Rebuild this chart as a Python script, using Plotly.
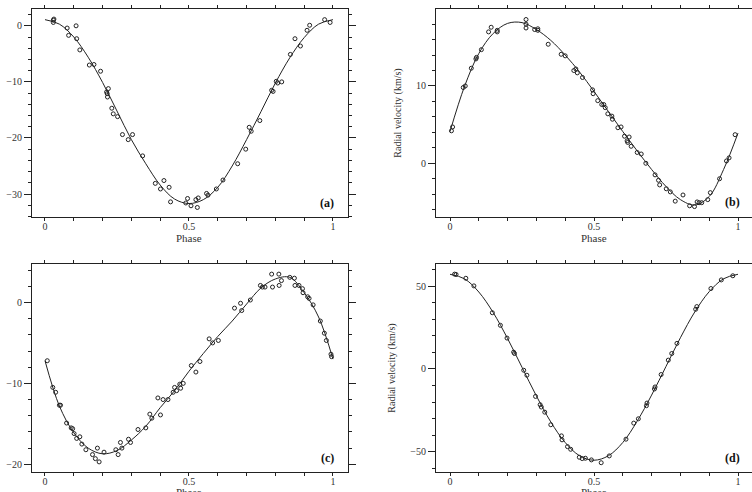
import plotly.graph_objects as go

# ---------------- data ----------------
# Panel (a)
a_phase = [0.029, 0.029, 0.031, 0.077, 0.082, 0.108, 0.110, 0.121, 0.154, 0.170,
           0.193, 0.214, 0.216, 0.220, 0.217, 0.232, 0.237, 0.252, 0.269, 0.289,
           0.304, 0.339, 0.383, 0.401, 0.413, 0.431, 0.436, 0.489, 0.495, 0.507,
           0.524, 0.532, 0.529, 0.561, 0.566, 0.595, 0.618, 0.669, 0.697, 0.709,
           0.716, 0.746, 0.787, 0.792, 0.803, 0.808, 0.822, 0.852, 0.868, 0.887,
           0.910, 0.919, 0.971, 0.990]
a_rv = [1.0, 0.6, 1.2, -0.4, -1.7, 0.0, -2.3, -4.3, -7.0, -6.9,
        -8.1, -11.8, -12.1, -11.2, -12.7, -14.7, -15.7, -16.2, -19.4, -20.3,
        -19.4, -23.2, -28.1, -29.1, -27.6, -28.8, -31.4, -31.6, -30.8, -32.1,
        -31.0, -30.7, -32.4, -29.9, -30.2, -29.1, -27.5, -24.6, -22.0, -18.1,
        -18.8, -16.9, -11.5, -11.7, -9.9, -10.2, -10.0, -5.1, -2.3, -3.6,
        -0.8, 0.1, 1.1, 0.6]

# Panel (b)
b_phase = [0.005, 0.009, 0.046, 0.053, 0.074, 0.090, 0.092, 0.109, 0.134, 0.143,
           0.164, 0.164, 0.264, 0.264, 0.264, 0.294, 0.305, 0.305, 0.341, 0.386,
           0.400, 0.430, 0.437, 0.442, 0.460, 0.495, 0.497, 0.513, 0.527, 0.534,
           0.539, 0.548, 0.562, 0.564, 0.583, 0.594, 0.606, 0.615, 0.617, 0.622,
           0.629, 0.650, 0.664, 0.680, 0.712, 0.724, 0.728, 0.751, 0.765, 0.782,
           0.809, 0.832, 0.849, 0.858, 0.865, 0.874, 0.895, 0.904, 0.936, 0.960,
           0.969, 0.990]
b_rv = [4.2, 4.7, 9.8, 10.0, 12.3, 13.5, 13.7, 14.7, 17.0, 17.6,
        17.2, 17.0, 18.6, 18.0, 17.5, 17.3, 17.4, 17.2, 15.4, 14.1,
        13.9, 12.0, 12.2, 11.7, 11.1, 9.5, 9.0, 8.1, 7.6, 7.6,
        7.2, 6.4, 6.1, 5.7, 4.6, 4.7, 3.5, 2.9, 2.7, 3.4,
        2.2, 1.4, 1.2, 0.0, -1.5, -2.2, -2.8, -3.3, -3.7, -4.9,
        -4.1, -5.5, -5.6, -5.0, -5.1, -5.1, -4.7, -3.8, -2.0, 0.3,
        0.7, 3.7]

# Panel (c)
c_phase = [0.008, 0.027, 0.037, 0.050, 0.054, 0.075, 0.091, 0.096, 0.101, 0.110,
           0.121, 0.128, 0.142, 0.165, 0.175, 0.182, 0.188, 0.205, 0.246, 0.254,
           0.262, 0.267, 0.290, 0.297, 0.323, 0.350, 0.364, 0.371, 0.392, 0.401,
           0.410, 0.427, 0.445, 0.450, 0.457, 0.468, 0.471, 0.480, 0.508, 0.524,
           0.538, 0.570, 0.582, 0.602, 0.658, 0.679, 0.683, 0.713, 0.748, 0.755,
           0.764, 0.787, 0.790, 0.812, 0.813, 0.821, 0.850, 0.866, 0.868, 0.882,
           0.894, 0.896, 0.912, 0.917, 0.931, 0.956, 0.970, 0.977, 0.993, 0.995]
c_rv = [-7.2, -10.5, -11.1, -12.7, -12.7, -14.9, -15.5, -15.6, -16.2, -16.8,
        -16.6, -17.5, -18.2, -18.8, -19.3, -18.0, -19.7, -18.5, -18.2, -18.8,
        -17.3, -18.0, -16.9, -17.3, -15.7, -15.5, -13.8, -14.3, -11.8, -13.9,
        -12.0, -12.0, -11.1, -10.5, -10.9, -10.1, -10.6, -10.0, -7.8, -8.6,
        -7.3, -4.5, -5.0, -4.7, -0.7, -0.1, -1.0, 0.3, 2.1, 1.9,
        1.9, 3.5, 1.9, 3.5, 2.1, 2.7, 3.1, 3.0, 2.1, 2.1,
        1.7, 1.2, 0.7, 0.5, -0.3, -2.3, -3.8, -4.7, -6.4, -6.7]

# Panel (d)
d_phase = [0.016, 0.021, 0.055, 0.083, 0.147, 0.175, 0.198, 0.221, 0.224, 0.256,
           0.267, 0.297, 0.313, 0.317, 0.329, 0.350, 0.387, 0.389, 0.408, 0.419,
           0.449, 0.459, 0.470, 0.491, 0.525, 0.553, 0.611, 0.638, 0.654, 0.682,
           0.684, 0.710, 0.712, 0.733, 0.758, 0.770, 0.788, 0.853, 0.857, 0.906,
           0.942, 0.982]
d_rv = [57.2, 57.0, 54.7, 50.1, 33.9, 26.3, 18.6, 10.1, 9.3, -0.8,
        -3.8, -16.6, -21.6, -23.0, -26.1, -33.7, -40.4, -42.8, -46.9, -48.5,
        -53.3, -54.1, -53.9, -54.9, -56.6, -52.5, -42.4, -32.7, -30.1, -22.2,
        -20.6, -12.1, -10.9, -3.4, 5.3, 9.3, 15.4, 36.0, 37.6, 48.5,
        53.7, 56.2]

# Fitted curves at 0.05 phase steps
fit_phase = [0.00, 0.05, 0.10, 0.15, 0.20, 0.25, 0.30, 0.35, 0.40, 0.45, 0.50,
             0.55, 0.60, 0.65, 0.70, 0.75, 0.80, 0.85, 0.90, 0.95, 1.00]
a_fit = [1.1, 0.3, -2.0, -5.6, -10.1, -15.2, -20.3, -24.6, -28.4, -30.9, -31.7,
         -31.0, -28.8, -25.0, -20.3, -15.3, -10.2, -5.7, -2.1, 0.3, 1.1]
b_fit = [4.1, 9.9, 14.2, 16.8, 18.1, 18.2, 17.3, 15.9, 14.0, 11.8, 9.3,
         6.7, 4.1, 1.6, -0.8, -3.0, -4.7, -5.4, -4.3, -0.8, 3.9]
c_fit = [-7.2, -12.8, -16.1, -18.0, -18.7, -18.3, -17.0, -15.3, -13.0, -10.9, -8.5,
         -6.3, -4.2, -2.3, -0.2, 1.8, 2.9, 3.1, 1.2, -1.8, -7.0]
d_fit = [57.1, 54.4, 46.4, 34.0, 18.3, 1.0, -16.3, -32.0, -44.4, -52.4, -55.1,
         -52.4, -44.4, -31.5, -15.8, 1.5, 18.8, 34.4, 46.6, 54.4, 57.1]

x_tickvals = [0, 0.5, 1]
x_ticktext = ["0", "0.5", "1"]
panel_labels = ["(a)", "(b)", "(c)", "(d)"]
xtitle = "Phase"
ytitle = "Radial velocity (km/s)"

# ---------------- figure ----------------
FONT = "Liberation Serif, Times New Roman, serif"
INK = "#222"
TXT = "#333"

fig = go.Figure()
panels = [
    (a_phase, a_rv, a_fit, "x", "y"),
    (b_phase, b_rv, b_fit, "x2", "y2"),
    (c_phase, c_rv, c_fit, "x3", "y3"),
    (d_phase, d_rv, d_fit, "x4", "y4"),
]
for ph, rv, fit, xa, ya in panels:
    fig.add_trace(go.Scatter(x=fit_phase, y=fit, mode="lines", xaxis=xa, yaxis=ya,
                             line=dict(color=INK, width=1, shape="spline", smoothing=1.0),
                             hoverinfo="skip", showlegend=False))
    fig.add_trace(go.Scatter(x=ph, y=rv, mode="markers", xaxis=xa, yaxis=ya,
                             marker=dict(symbol="circle-open", size=4, color=INK,
                                         line=dict(width=1, color=INK)),
                             showlegend=False))

W, H = 752, 492
left_dom = [32 / W, 348 / W]
right_dom = [436 / W, 1.0]
top_dom = [1 - 217 / H, 1 - 9 / H]
bot_dom = [1 - 472 / H, 1 - 264 / H]


def xax(domain, rng, anchor):
    return dict(domain=domain, range=rng, anchor=anchor, tickmode="array",
                tickvals=x_tickvals, ticktext=x_ticktext, ticks="outside", ticklen=3,
                tickcolor=INK, tickwidth=1, showline=True, linecolor=INK, linewidth=1,
                mirror="allticks", showgrid=False, zeroline=False,
                ticklabelstandoff=-3,
                minor=dict(ticks="outside", ticklen=3, dtick=0.1, tick0=0,
                           tickcolor=INK, showgrid=False),
                tickfont=dict(family=FONT, size=10, color=TXT))


def yax(domain, rng, anchor, dtick, mdtick, mirror, title=None):
    d = dict(domain=domain, range=rng, anchor=anchor, dtick=dtick, tick0=0,
             ticks="outside", ticklen=7, tickcolor=INK, tickwidth=1,
             showline=True, linecolor=INK, linewidth=1, mirror=mirror,
             showgrid=False, zeroline=False,
             minor=dict(ticks="outside", ticklen=3, dtick=mdtick, tick0=0,
                        tickcolor=INK, showgrid=False),
             tickfont=dict(family=FONT, size=10, color=TXT))
    if title:
        d["title"] = dict(text=title, font=dict(family=FONT, size=10, color=TXT), standoff=12)
    return d


fig.update_layout(
    width=W, height=H, margin=dict(l=0, r=0, t=0, b=0),
    paper_bgcolor="white", plot_bgcolor="white",
    xaxis=xax(left_dom, [-0.0451, 1.0521], "y"),
    yaxis=yax(top_dom, [-34.1, 3.0], "x", 10, 2, "allticks"),
    xaxis2=xax(right_dom, [-0.0486, 1.0486], "y2"),
    yaxis2=yax(top_dom, [-6.95, 19.96], "x2", 10, 2, False, ytitle),
    xaxis3=xax(left_dom, [-0.0451, 1.0521], "y3"),
    yaxis3=yax(bot_dom, [-20.95, 4.75], "x3", 10, 2, "allticks"),
    xaxis4=xax(right_dom, [-0.0486, 1.0486], "y4"),
    yaxis4=yax(bot_dom, [-62.2, 63.3], "x4", 50, 10, False, ytitle),
)

# x-axis titles ("Phase"), centred under each panel; the lower ones run past the
# page edge, as in the reference (only the top of the word shows)
xtitle_pos = [(189, 238), (594, 238), (189, 492), (594, 492)]
for (px, py) in xtitle_pos:
    fig.add_annotation(x=px / W, y=1 - py / H, xref="paper", yref="paper",
                       text=xtitle, showarrow=False, xanchor="center", yanchor="middle",
                       font=dict(family=FONT, size=11, color=TXT))

label_pos = [(336, 203), (742, 202), (336, 458), (742, 458)]
for lab, (px, py) in zip(panel_labels, label_pos):
    fig.add_annotation(x=px / W, y=1 - py / H, xref="paper", yref="paper",
                       text="<b>" + lab + "</b>", showarrow=False,
                       xanchor="right", yanchor="middle",
                       font=dict(family=FONT, size=12, color="#111"))

fig.write_html("out.html")
